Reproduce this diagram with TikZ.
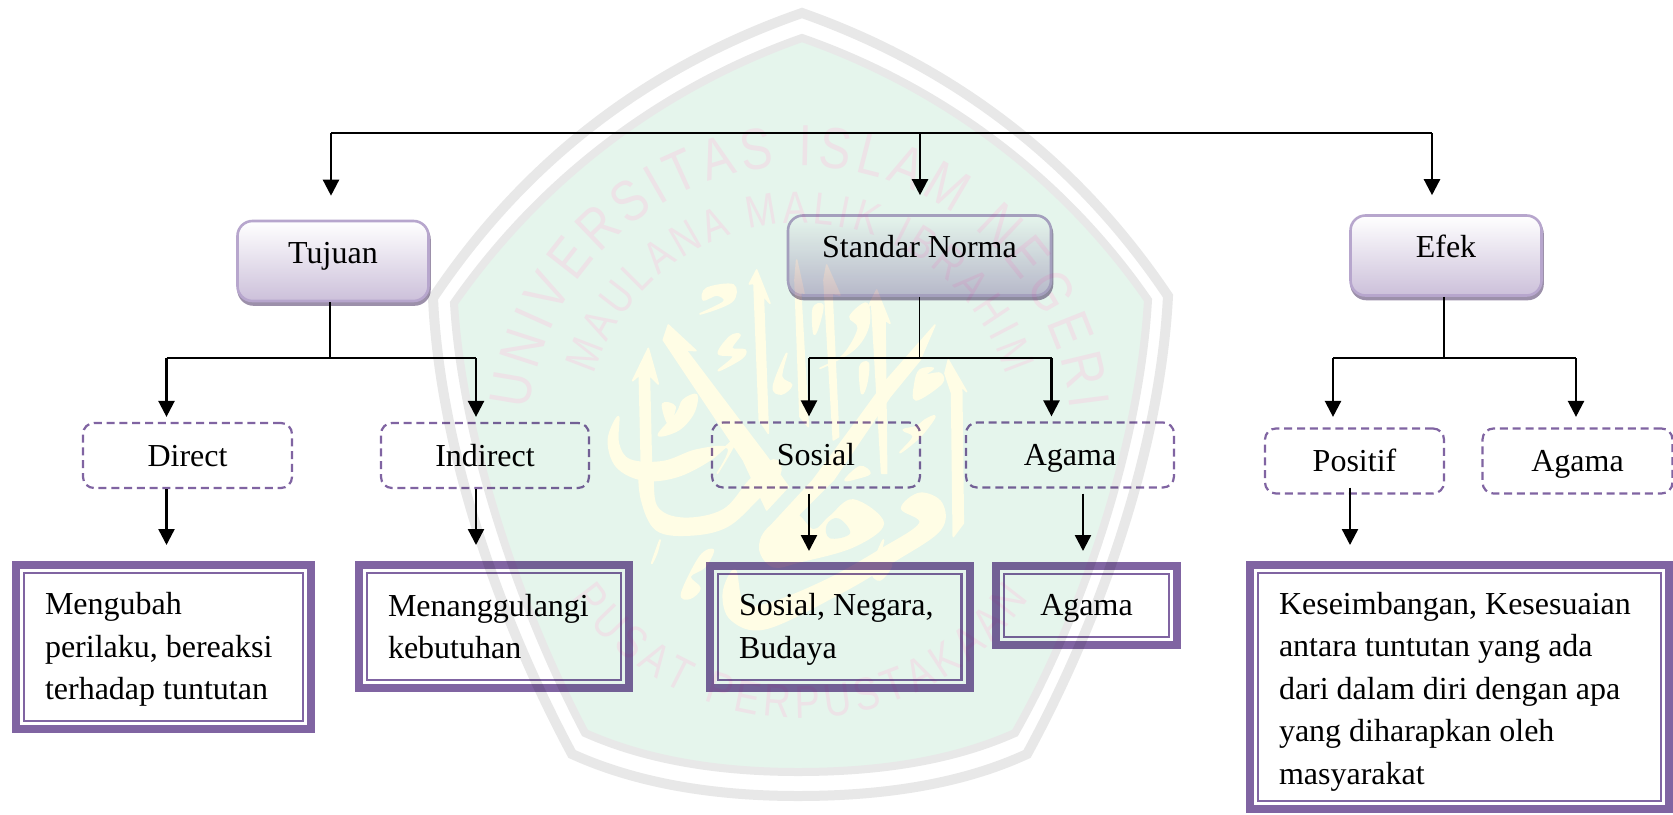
\documentclass[tikz,border=0pt]{standalone}
\usepackage{fontspec}
\setmainfont{Liberation Serif}
\newfontfamily\wmsans[FakeStretch=0.82]{Liberation Sans}
\usetikzlibrary{arrows.meta,shadows,decorations.text,calc}
\definecolor{frameP}{HTML}{8064A2}
\definecolor{topB}{HTML}{B7A6CD}
\definecolor{gradB}{HTML}{CCC0DA}
\definecolor{shadeB}{HTML}{9C90AA}
\definecolor{wmGreen}{HTML}{E5F5EC}
\definecolor{wmGray}{HTML}{E8E8E8}
\definecolor{wmYellow}{HTML}{FFFDE5}
\definecolor{wmText}{HTML}{EDE3E7}
\tikzset{
  txt/.style={font=\fontsize{32}{42.5}\selectfont,text=black},
  topbox/.style={txt,rounded corners=15pt,draw=topB,line width=2.6pt,top color=white,bottom color=gradB,
    minimum width=#1,minimum height=80pt,inner sep=0pt,text height=22pt,text depth=1pt,
    copy shadow={shadow xshift=1pt,shadow yshift=-3.5pt,fill=shadeB,draw=shadeB}},
  dashbox/.style={txt,rounded corners=11pt,draw=frameP,line width=2.2pt,dash pattern=on 8pt off 4.8pt,
    minimum width=#1,minimum height=65pt,inner sep=0pt,text height=22pt,text depth=1pt},
  framebox/.style={txt,draw=frameP,line width=8pt,align=flush left,inner ysep=0pt,inner xsep=29pt,outer sep=0pt},
  conn/.style={line width=1.6pt,black},
  busline/.style={line width=2.4pt,black},
  arr/.style={line width=2.4pt,black,-{Triangle[length=16pt,width=16pt]}},
  wmtxt/.style={decorate,decoration={text along path,text align={fit to path},text={#1}}},
  cal/.style={fill=wmYellow,draw=wmYellow,line width=1.6pt,line join=round}
}
\newcommand{\innerframe}[1]{\draw[frameP,line width=2.6pt]
  ([shift={(8pt,-8pt)}]#1.north west) rectangle ([shift={(-8pt,8pt)}]#1.south east);}
\begin{document}
\begin{tikzpicture}[x=1pt,y=-1pt,line join=miter]
\fill[white,use as bounding box] (0,0) rectangle (1673,814);

% first level
\node[topbox=191pt] (tuj) at (333,261) {\raisebox{8.5pt}{Tujuan}};
\node[topbox=263pt] (std) at (919.5,255.5) {\raisebox{9pt}{Standar Norma}};
\node[topbox=191pt] (efk) at (1446,255.5) {\raisebox{9pt}{Efek}};

% second level
\node[dashbox=209pt] (dir) at (187.5,455.5) {Direct};
\node[dashbox=208pt] (ind) at (485,455.5) {Indirect};
\node[dashbox=208pt] (sos) at (816,455) {Sosial};
\node[dashbox=208pt] (aga) at (1070,455) {Agama};
\node[dashbox=179pt] (pos) at (1354.5,461) {Positif};
\node[dashbox=190pt] (agb) at (1577.5,461) {Agama};

% third level
\node[framebox,text width=237pt,minimum width=295pt,minimum height=164pt] (b1) at (163.5,647) {\rule{0pt}{27pt}Mengubah\\perilaku, bereaksi\\terhadap tuntutan};
\node[framebox,text width=212pt,minimum width=270pt,minimum height=123pt] (b2) at (494,626.5) {Menanggulangi\\kebutuhan};
\node[framebox,text width=201.5pt,minimum width=259.5pt,minimum height=122pt] (b3) at (839.75,627) {\rule{0pt}{27pt}Sosial, Negara,\\Budaya};
\node[framebox,text width=117pt,align=flush center,minimum width=181pt,minimum height=79pt] (b4) at (1086.5,605.5) {\rule{0pt}{27pt}Agama};
\node[framebox,text width=361pt,minimum width=419pt,minimum height=244pt] (b5) at (1459.5,687) {\rule{0pt}{31pt}Keseimbangan, Kesesuaian\\antara tuntutan yang ada\\dari dalam diri dengan apa\\yang diharapkan oleh\\masyarakat};
\innerframe{b1}\innerframe{b2}\innerframe{b3}\innerframe{b4}\innerframe{b5}

% top bus
\coordinate (tl) at (331,133);
\coordinate (tm) at (920,133);
\coordinate (tr) at (1432,133);
\draw[busline] (tl) -- (tr);
\draw[arr,shorten >=24pt] (tl) -- (tl |- tuj.north);
\draw[arr,shorten >=19pt] (tm) -- (tm |- std.north);
\draw[arr,shorten >=19pt] (tr) -- (tr |- efk.north);

% Tujuan tree
\coordinate (j1) at (330,358);
\coordinate (l1) at (166.5,358);
\coordinate (r1) at (476,358);
\draw[conn] (j1 |- tuj.south) -- (j1);
\draw[busline] (l1) -- (r1);
\draw[arr,shorten >=5pt] (l1) -- (l1 |- dir.north);
\draw[arr,shorten >=5pt] (r1) -- (r1 |- ind.north);
\draw[arr,shorten >=20pt] (l1 |- dir.south) -- (l1 |- b1.north);
\draw[arr,shorten >=20pt] (r1 |- ind.south) -- (r1 |- b2.north);

% Standar tree
\coordinate (j2) at (919.5,358);
\coordinate (l2) at (809,358);
\coordinate (r2) at (1051.5,358);
\coordinate (s4) at (1083,358);
\draw[conn] (j2 |- std.south) -- (j2);
\draw[busline] (l2) -- (r2);
\draw[arr,shorten >=5pt] (l2) -- (l2 |- sos.north);
\draw[arr,shorten >=5pt] (r2) -- (r2 |- aga.north);
\draw[arr,shorten <=5pt,shorten >=15pt] (l2 |- sos.south) -- (l2 |- b3.north);
\draw[arr,shorten <=5pt,shorten >=15pt] (s4 |- aga.south) -- (s4 |- b4.north);

% Efek tree
\coordinate (j3) at (1444,358);
\coordinate (l3) at (1333,358);
\coordinate (r3) at (1576,358);
\coordinate (s5) at (1350,358);
\draw[conn] (j3 |- efk.south) -- (j3);
\draw[busline] (l3) -- (r3);
\draw[arr,shorten >=10.5pt] (l3) -- (l3 |- pos.north);
\draw[arr,shorten >=10.5pt] (r3) -- (r3 |- agb.north);
\draw[arr,shorten <=-7pt,shorten >=20pt] (s5 |- pos.south) -- (s5 |- b5.north);

% watermark, printed over the diagram
\begin{scope}[transparency group,blend mode=multiply]
  \draw[wmGray,line width=10pt]
    (802,13) .. controls (647,67) and (524,162) .. (433,298)
    .. controls (440,450) and (500,620) .. (572,754)
    .. controls (640,785) and (720,796) .. (798,796)
    .. controls (880,796) and (960,785) .. (1027,754)
    .. controls (1100,620) and (1160,450) .. (1168,296)
    .. controls (1078,162) and (955,67) .. (802,13) -- cycle;
  \draw[wmGray,fill=wmGreen,line width=8pt]
    (802,38) .. controls (660,88) and (540,180) .. (454,303)
    .. controls (462,440) and (520,610) .. (585,733)
    .. controls (650,762) and (725,772) .. (798,772)
    .. controls (875,772) and (950,762) .. (1015,733)
    .. controls (1085,610) and (1140,440) .. (1148,300)
    .. controls (1065,180) and (945,88) .. (802,38) -- cycle;
  % lettering of the seal
  \path[wmtxt={|\color{wmText}\fontsize{58}{58}\wmsans|UNIVERSITAS ISLAM NEGERI}]
    (800,438) ++(186:272) arc[start angle=186,end angle=354,radius=272];
  \path[wmtxt={|\color{wmText}\fontsize{45}{45}\wmsans|MAULANA MALIK IBRAHIM}]
    (800,438) ++(197:215) arc[start angle=197,end angle=343,radius=215];
  \path[wmtxt={|\color{wmText}\fontsize{46}{46}\wmsans|PUSAT PERPUSTAKAAN}]
    (800,438) ++(145:280) arc[start angle=145,end angle=35,radius=280];
  % calligraphy
  \begin{scope}[shift={(600,260)},x=0.3333pt,y=-0.3333pt]
    \path[cal] (145,265)--(98,362)--(118,345)--(125,650)--(155,650)--(148,345)--(175,372)--cycle;
    \path[cal] (205,195)--(288,272)--(258,270)--(500,590)--(565,680)--(500,750)--(430,600)--(190,240)--cycle;
    \path[cal] (470,30)--(510,130)--(490,108)--(505,520)--(478,480)--(462,70)--(448,72)--cycle;
    \path[cal] (590,0)--(612,100)--(602,95)--(625,500)--(600,470)--(585,60)--cycle;
    \path[cal] (680,15)--(720,105)--(696,100)--(716,530)--(700,540)--(672,60)--cycle;
    \path[cal] (830,90)--(870,190)--(855,180)--(860,640)--(845,640)--(815,130)--(805,140)--cycle;
    \path[cal] (1045,300)--(1100,395)--(1085,380)--(1090,790)--(1060,830)--(1055,400)--(1035,340)--cycle;
    \path[cal] (1005,195)--(960,300)--(870,410)--(700,660)--(600,760)--(510,870)--(485,860)--(520,790)--(640,660)--(780,470)--(860,360)--cycle;
    % bowls
    \path[cal] plot[smooth cycle,tension=0.6] coordinates {(55,470)(25,540)(50,620)(130,660)(230,650)(330,600)(410,535)(352,640)(385,565)(290,570)(190,605)(90,600)(55,550)};
    \path[cal] plot[smooth cycle,tension=0.6] coordinates {(120,620)(125,720)(170,810)(270,825)(380,800)(470,720)(540,640)(520,600)(450,660)(370,750)(250,775)(170,740)(155,630)};
    \fill[wmGreen] (255,685)--(278,708)--(255,722)--(235,703)--cycle;
    % loops
    \path[cal] plot[smooth cycle,tension=0.6] coordinates {(480,870)(520,920)(600,905)(760,860)(850,790)(760,720)(690,770)(640,810)(580,760)(500,810)};
    \fill[wmGreen] plot[smooth cycle,tension=0.7] coordinates {(680,795)(715,775)(750,820)(690,835)};
    \path[cal] plot[smooth cycle,tension=0.6] coordinates {(370,1000)(395,1080)(500,1105)(720,1000)(880,905)(1020,810)(1025,730)(960,700)(905,745)(960,790)(840,870)(680,960)(510,1030)(430,1030)(405,930)};
    % small marks
    \path[cal] plot[smooth cycle,tension=0.6] coordinates {(310,120)(320,85)(400,75)(395,125)(300,162)(372,125)(350,105)};
    \path[cal] plot[smooth cycle,tension=0.6] coordinates {(355,280)(390,230)(420,225)(395,265)(435,270)(425,295)(355,332)(400,290)};
    \path[cal] plot[smooth cycle,tension=0.6] coordinates {(175,525)(230,460)(250,420)(290,405)(280,460)(235,510)};
    \path[cal] plot[smooth cycle,tension=0.6] coordinates {(188,432)(225,440)(205,490)};
    \path[cal] plot[smooth cycle,tension=0.6] coordinates {(640,145)(668,135)(658,190)(642,222)};
    \path[cal] plot[smooth cycle,tension=0.6] coordinates {(660,325)(730,285)(775,205)(750,170)(800,130)(805,200)(760,270)};
    \path[cal] plot[smooth cycle,tension=0.6] coordinates {(520,380)(560,280)(545,350)(575,375)(545,402)};
    \path[cal] plot[smooth cycle,tension=0.6] coordinates {(780,320)(805,310)(800,370)(785,400)};
    \path[cal] plot[smooth cycle,tension=0.6] coordinates {(948,420)(1025,370)(1020,340)(975,345)(1000,325)(960,330)(945,370)};
    \path[cal] plot[smooth cycle,tension=0.6] coordinates {(900,578)(960,530)(1005,470)(975,480)(950,500)(910,510)(940,530)};
    \path[cal] plot[smooth cycle,tension=0.6] coordinates {(155,910)(180,840)(170,880)};
    \path[cal] plot[smooth cycle,tension=0.6] coordinates {(245,1000)(300,890)(340,870)(315,920)(270,950)(300,985)(270,1015)};
    \path[cal] plot[smooth cycle,tension=0.6] coordinates {(815,930)(850,840)(840,905)(875,915)(840,960)};
    \path[cal] plot[smooth cycle,tension=0.6] coordinates {(735,660)(780,620)(810,640)(770,655)};
  \end{scope}
\end{scope}
\end{tikzpicture}
\end{document}
